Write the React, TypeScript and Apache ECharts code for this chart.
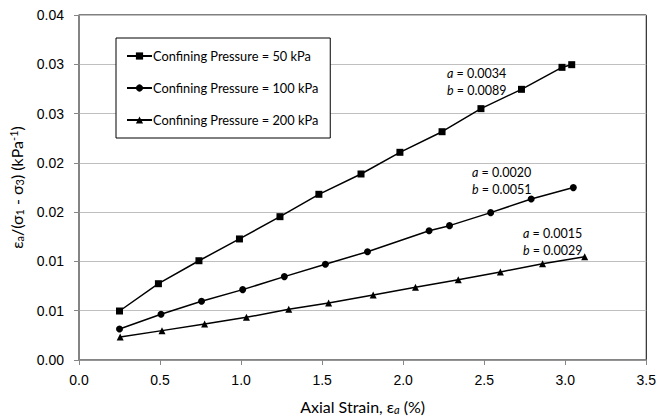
import React, { useEffect, useRef } from "react";
import * as echarts from "echarts";

const x50 = [0.25, 0.49, 0.74, 0.99, 1.24, 1.48, 1.74, 1.98, 2.24, 2.48, 2.73, 2.98, 3.04];
const y50 = [0.00497, 0.00774, 0.01007, 0.01228, 0.01454, 0.01681, 0.01887, 0.02107, 0.02316, 0.0255, 0.02746, 0.02969, 0.02996];
const x100 = [0.25, 0.506, 0.756, 1.01, 1.267, 1.52, 1.78, 2.16, 2.286, 2.54, 2.79, 3.05];
const y100 = [0.00315, 0.00464, 0.00596, 0.00714, 0.00846, 0.00971, 0.01099, 0.01312, 0.01363, 0.01495, 0.01634, 0.01749];
const x200 = [0.254, 0.512, 0.775, 1.033, 1.294, 1.54, 1.815, 2.076, 2.34, 2.6, 2.86, 3.12];
const y200 = [0.00233, 0.00298, 0.00365, 0.00433, 0.00514, 0.00578, 0.0066, 0.00737, 0.00815, 0.00893, 0.00977, 0.01048];

const seriesNames = [
  "Confining Pressure = 50 kPa",
  "Confining Pressure = 100 kPa",
  "Confining Pressure = 200 kPa",
];
const yTickLabels = ["0.00", "0.01", "0.01", "0.02", "0.02", "0.03", "0.03", "0.04"];
const aValues = ["0.0034", "0.0020", "0.0015"];
const bValues = ["0.0089", "0.0051", "0.0029"];

const FONT = "Lato";
const TICKFONT = "Liberation Sans";

function pairs(xs: number[], ys: number[]) {
  return xs.map((x, i) => [x, ys[i]]);
}

export default function App() {
  const ref = useRef<HTMLDivElement>(null);
  useEffect(() => {
    if (!ref.current) return;
    const chart = echarts.init(ref.current, null, { renderer: "svg" });
    const symbols = ["rect", "circle", "triangle"];
    const sizes = [7, 7, 7];
    const ys = [y50, y100, y200];
    const xs = [x50, x100, x200];
    const annPos = [
      [447, 65],
      [472, 164],
      [523, 225],
    ];
    const richAnn = {
      i: { fontStyle: "italic", fontFamily: FONT, fontSize: 12.5, color: "#000" },
      n: { fontFamily: FONT, fontSize: 12.5, color: "#000" },
    };
    chart.setOption({
      animation: false,
      backgroundColor: "#fff",
      grid: {
        left: 79,
        right: 11,
        top: 15,
        bottom: 60,
        show: true,
        borderColor: "#000",
        borderWidth: 1,
        backgroundColor: "transparent",
      },
      legend: {
        orient: "vertical",
        left: 116,
        top: 38,
        padding: [10, 12, 10, 10],
        itemGap: 16,
        itemWidth: 25,
        itemHeight: 9,
        borderColor: "#000",
        borderWidth: 1,
        backgroundColor: "#fff",
        textStyle: { fontFamily: FONT, fontSize: 12.8, color: "#000", padding: [0, 0, 0, -4], lineHeight: 16 },
        data: seriesNames,
      },
      xAxis: {
        type: "value",
        min: 0,
        max: 3.5,
        interval: 0.5,
        name: "{n|Axial Strain, ε}{i|a}{n| (%)}",
        nameLocation: "middle",
        nameGap: 38,
        nameTextStyle: {
          rich: {
            n: { fontFamily: FONT, fontSize: 16, color: "#000" },
            i: { fontFamily: FONT, fontSize: 11, fontStyle: "italic", color: "#000", padding: [6, 0, 0, 0] },
          },
        },
        axisLine: { show: true, lineStyle: { color: "#868686", width: 1.5 } },
        axisTick: { show: true, inside: false, length: 5, lineStyle: { color: "#868686" } },
        axisLabel: {
          fontFamily: TICKFONT,
          fontSize: 14,
          color: "#000",
          margin: 13,
          formatter: (v: number) => v.toFixed(1),
        },
        splitLine: { show: false },
      },
      yAxis: {
        type: "value",
        min: 0,
        max: 0.035,
        interval: 0.005,
        name: "{n|ε}{s|a}{n|/(σ}{s|1}{n| - σ}{s|3}{n|) (kPa}{u|-1}{n|)}",
        nameLocation: "middle",
        nameGap: 54,
        nameTextStyle: {
          rich: {
            n: { fontFamily: FONT, fontSize: 16, color: "#000" },
            s: { fontFamily: FONT, fontSize: 11, color: "#000", padding: [6, 0, 0, 0] },
            u: { fontFamily: FONT, fontSize: 11, color: "#000", padding: [0, 0, 6, 0] },
          },
        },
        axisLine: { show: true, lineStyle: { color: "#868686", width: 1.5 } },
        axisTick: { show: true, inside: false, length: 5, lineStyle: { color: "#868686" } },
        axisLabel: {
          fontFamily: TICKFONT,
          fontSize: 14,
          color: "#000",
          margin: 15,
          formatter: (v: number) => yTickLabels[Math.round(v / 0.005)] ?? "",
        },
        splitLine: { show: true, lineStyle: { color: "#bfbfbf", width: 1 } },
      },
      series: seriesNames.map((name, k) => ({
        name,
        type: "line",
        data: pairs(xs[k], ys[k]),
        symbol: symbols[k],
        symbolSize: sizes[k],
        showSymbol: true,
        lineStyle: { color: "#000", width: 1.5 },
        itemStyle: { color: "#000" },
        z: 3,
      })),
      graphic: aValues.map((a, k) => ({
        type: "text",
        left: annPos[k][0],
        top: annPos[k][1],
        z: 10,
        style: {
          text: `{i|a}{n| = ${a}}\n{i|b}{n| = ${bValues[k]}}`,
          rich: richAnn,
          lineHeight: 17,
          fill: "#000",
        },
      })),
    });
    return () => chart.dispose();
  }, []);
  return (
    <div
      ref={ref}
      style={{ position: "absolute", left: 0, top: 0, width: 659, height: 420 }}
    />
  );
}
